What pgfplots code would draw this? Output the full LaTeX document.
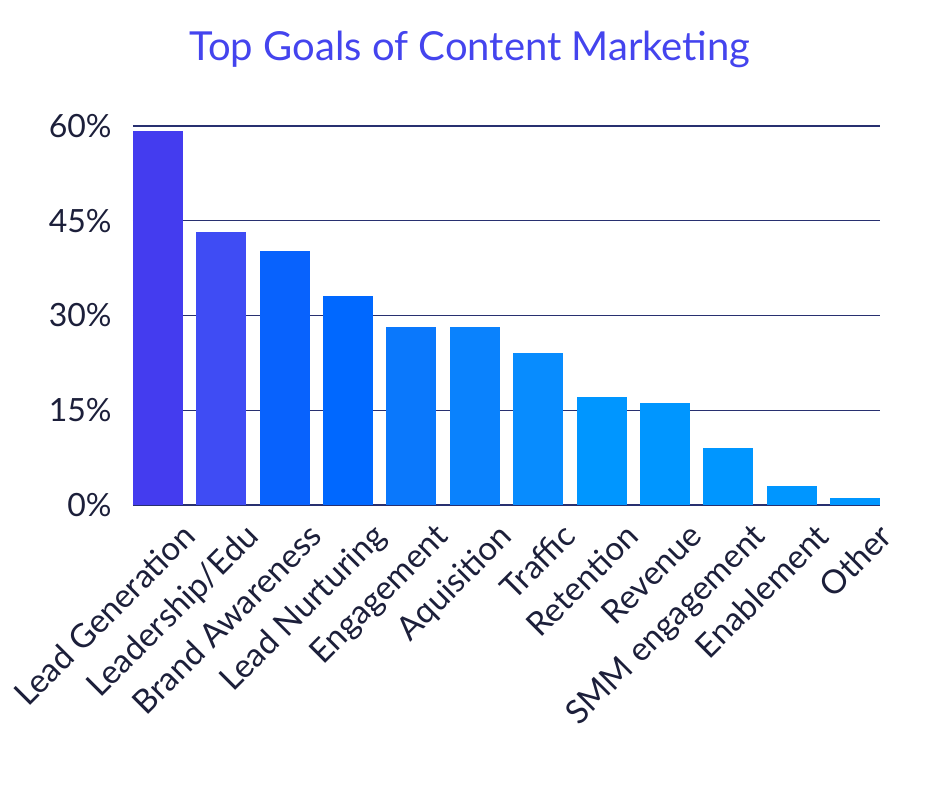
\documentclass[border=0pt]{standalone}
\usepackage{fontspec}
\setmainfont{Lato}
\usepackage{pgfplots}
\pgfplotsset{compat=1.18}
\definecolor{txt}{HTML}{1C1F3A}
\definecolor{grid}{HTML}{283070}
\definecolor{ttl}{HTML}{4444EE}
\definecolor{c1}{HTML}{443CEF}
\definecolor{c2}{HTML}{3F4CF4}
\definecolor{c3}{HTML}{0862FD}
\definecolor{c4}{HTML}{0068FF}
\definecolor{c5}{HTML}{0A78FC}
\definecolor{c6}{HTML}{0A82FD}
\definecolor{c7}{HTML}{088CFE}
\definecolor{c8}{HTML}{0096FF}
\begin{document}
\begin{tikzpicture}
\path[use as bounding box] (-66.5pt,-141.5pt) rectangle (403.5pt,252.5pt);
\begin{axis}[
  at={(0pt,0pt)}, anchor=south west,
  scale only axis, width=373.5pt, height=189.5pt,
  xmin=-0.394, xmax=11.394, ymin=0, ymax=60,
  ybar, bar width=25pt, bar shift=0pt,
  axis x line*=bottom, axis y line*=left,
  y axis line style={draw=none},
  x axis line style={draw=grid, line width=1pt},
  major tick length=0pt,
  ytick={0,15,30,45,60},
  ymajorgrids, grid style={draw=grid, line width=0.7pt},
  yticklabel={\pgfmathparse{int(\tick)}\pgfmathresult\%},
  yticklabel style={font=\fontsize{16}{18}\selectfont, text=txt, anchor=east, inner sep=0pt, xshift=-10.5pt},
  xtick={0,...,11},
  xticklabels={Lead Generation,Leadership/Edu,Brand Awareness,Lead Nurturing,Engagement,Aquisition,Traffic,Retention,Revenue,SMM engagement,Enablement,Other},
  xticklabel style={font=\fontsize{16.5}{18}\selectfont, text=txt, xshift=11pt, yshift=-8pt, rotate=45, anchor=north east, inner sep=0pt},
  every axis plot/.append style={draw=none},
]
\addplot[fill=c1] coordinates {(0,59.2)};
\addplot[fill=c2] coordinates {(1,43.2)};
\addplot[fill=c3] coordinates {(2,40.2)};
\addplot[fill=c4] coordinates {(3,33.1)};
\addplot[fill=c5] coordinates {(4,28.2)};
\addplot[fill=c6] coordinates {(5,28.2)};
\addplot[fill=c7] coordinates {(6,24.1)};
\addplot[fill=c8] coordinates {(7,17.1)};
\addplot[fill=c8] coordinates {(8,16.1)};
\addplot[fill=c8] coordinates {(9,9.0)};
\addplot[fill=c8] coordinates {(10,3.0)};
\addplot[fill=c8] coordinates {(11,1.1)};
\end{axis}
\node[text=ttl, font=\fontsize{20}{23}\selectfont] at (168.5pt,228pt) {Top Goals of Content Marketing};
\end{tikzpicture}
\end{document}
